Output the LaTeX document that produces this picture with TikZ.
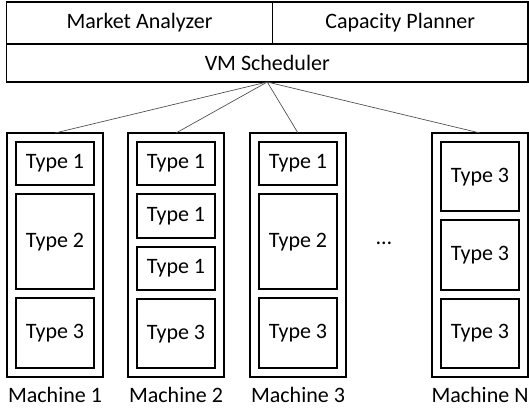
\documentclass[tikz,border=0pt]{standalone}
\usepackage{fontspec}
\setmainfont{Carlito}
\usepackage{tikz}
\usetikzlibrary{positioning}
\tikzset{
    module/.style={rectangle, draw=black, line width=1pt, outer sep=0pt, inner sep=0pt, text centered},
    machine/.style={rectangle, draw=black, line width=1pt, outer sep=0pt, minimum width=72pt, minimum height=183pt},
    vm/.style={rectangle, draw=black, line width=1.5pt, outer sep=0pt, minimum width=58.5pt},
    vm_small/.style={vm, minimum height=32.5pt},
    vm_mid/.style={vm, minimum height=52pt},
    vm_big/.style={vm, minimum height=71.25pt},
    link/.style={black!70, line width=0.5pt},
}

\begin{document}
\begin{tikzpicture}
        [x=0.75pt, y=-0.75pt, font=\fontsize{16.5}{19}\selectfont]
        \useasboundingbox (0,0) rectangle (529,412);

        % Management layer
        \node[module, anchor=north west, minimum width=199.5pt, minimum height=31.5pt] (market) at (6.5,2) {Market Analyzer};
        \node[module, right=0pt of market, minimum width=191.6pt, minimum height=31.5pt] (capacity) {Capacity Planner};
        \node[module, anchor=north west, minimum width=391.1pt, minimum height=28.5pt] (sched) at (market.south west) {VM Scheduler};

        % Machines
        \node[machine] (m1) at (55,255) {};
        \node[machine] (m2) at (176,255) {};
        \node[machine] (m3) at (298,255) {};
        \node[machine] (mn) at (480,255) {};
        \node (dots) at (384,243) {\dots};

        % VMs of machine 1
        \node[vm_small, below=6.75pt of m1.north] (m1a) {Type 1};
        \node[vm_big, below=6.75pt of m1a] (m1b) {Type 2};
        \node[vm_mid, below=6.75pt of m1b] (m1c) {Type 3};

        % VMs of machine 2
        \node[vm_small, below=6.75pt of m2.north] (m2a) {Type 1};
        \node[vm_small, below=6.75pt of m2a] (m2b) {Type 1};
        \node[vm_small, below=6.75pt of m2b] (m2c) {Type 1};
        \node[vm_mid, below=6.75pt of m2c] (m2d) {Type 3};

        % VMs of machine 3
        \node[vm_small, below=6.75pt of m3.north] (m3a) {Type 1};
        \node[vm_big, below=6.75pt of m3a] (m3b) {Type 2};
        \node[vm_mid, below=6.75pt of m3b] (m3c) {Type 3};

        % VMs of machine N
        \node[vm_mid, below=6.75pt of mn.north] (mna) {Type 3};
        \node[vm_mid, below=6.75pt of mna] (mnb) {Type 3};
        \node[vm_mid, below=6.75pt of mnb] (mnc) {Type 3};

        % Machine names
        \node[below=4pt of m1] (lab1) {Machine 1};
        \node[below=4pt of m2] (lab2) {Machine 2};
        \node[below=4pt of m3] (lab3) {Machine 3};
        \node[below=4pt of mn] (labn) {Machine N};

        % Lines
        \foreach \m in {m1,m2,m3,mn}
            \draw[link] (sched.south) -- (\m.north);

    \end{tikzpicture}
\end{document}
